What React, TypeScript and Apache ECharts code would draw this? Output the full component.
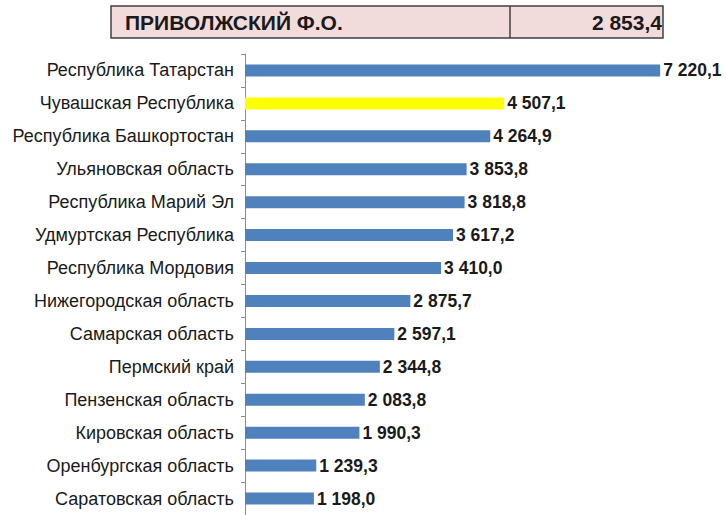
import React, { useEffect, useRef } from "react";
import * as echarts from "echarts";

const categories = [
  "Республика Татарстан",
  "Чувашская Республика",
  "Республика Башкортостан",
  "Ульяновская область",
  "Республика Марий Эл",
  "Удмуртская Республика",
  "Республика Мордовия",
  "Нижегородская область",
  "Самарская область",
  "Пермский край",
  "Пензенская область",
  "Кировская область",
  "Оренбургская область",
  "Саратовская область",
];
const values = [7220.1, 4507.1, 4264.9, 3853.8, 3818.8, 3617.2, 3410.0, 2875.7, 2597.1, 2344.8, 2083.8, 1990.3, 1239.3, 1198.0];
const highlighted = "Чувашская Республика";
const headerTitle = "ПРИВОЛЖСКИЙ Ф.О.";
const headerValue = 2853.4;

const fmt = (v: number) => {
  const s = v.toFixed(1);
  const [i, d] = s.split(".");
  return i.replace(/\B(?=(\d{3})+(?!\d))/g, " ") + "," + d;
};

export default function App() {
  const ref = useRef<HTMLDivElement>(null);
  useEffect(() => {
    const chart = echarts.init(ref.current!, null, { renderer: "svg" });
    chart.setOption({
      animation: false,
      textStyle: { fontFamily: "Liberation Sans, Arial, sans-serif" },
      grid: { left: 245, top: 54, right: 21, bottom: -3, containLabel: false },
      xAxis: { type: "value", min: 0, max: 8000, show: false },
      yAxis: {
        type: "category",
        data: categories,
        inverse: true,
        axisLine: { show: true, lineStyle: { color: "#8c8c8c", width: 1 } },
        axisTick: { show: true, length: 4, lineStyle: { color: "#8c8c8c" } },
        axisLabel: { color: "#1a1a1a", fontSize: 18, margin: 11 },
        splitLine: { show: false },
      },
      series: [
        {
          type: "bar",
          barWidth: 12,
          data: values.map((v, i) => ({
            value: v,
            itemStyle: { color: categories[i] === highlighted ? "#ffff00" : "#4f81bd" },
          })),
          label: {
            show: true,
            position: "right",
            distance: 3,
            formatter: (p: any) => fmt(p.value),
            color: "#1a1a1a",
            fontWeight: "bold",
            fontSize: 17.5,
          },
        },
      ],
      graphic: [
        {
          type: "rect",
          shape: { x: 111, y: 6, width: 552, height: 32 },
          style: { fill: "#f2dcdb", stroke: "#404040", lineWidth: 1.5 },
        },
        {
          type: "line",
          shape: { x1: 510, y1: 6, x2: 510, y2: 38 },
          style: { stroke: "#404040", lineWidth: 1.5 },
        },
        {
          type: "text",
          x: 125,
          y: 22,
          style: {
            text: headerTitle,
            fill: "#1a1a1a",
            font: "bold 21px Liberation Sans, Arial, sans-serif",
            textVerticalAlign: "middle",
          },
        },
        {
          type: "text",
          x: 662,
          y: 22,
          style: {
            text: fmt(headerValue),
            fill: "#1a1a1a",
            font: "bold 21px Liberation Sans, Arial, sans-serif",
            textAlign: "right",
            textVerticalAlign: "middle",
          },
        },
      ],
    });
    return () => chart.dispose();
  }, []);
  return <div ref={ref} style={{ width: 726, height: 515, position: "absolute", left: 0, top: 0 }} />;
}
